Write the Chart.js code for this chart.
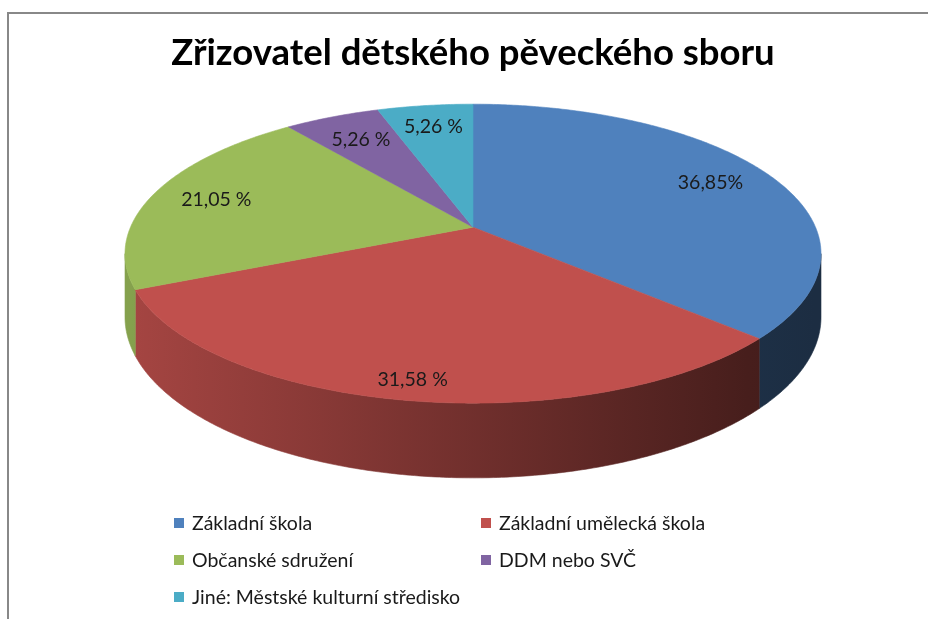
<!DOCTYPE html>
<html>
<head>
<meta charset="utf-8">
<script src="https://cdn.jsdelivr.net/npm/chart.js@4.4.0/dist/chart.umd.min.js"></script>
<style>
  body { margin: 0; background: #fff; overflow: hidden; }
  #wrap { position: relative; width: 928px; height: 619px; }
  #frame { position: absolute; left: 7px; top: 12px; right: 0; bottom: 0;
           border-top: 2px solid #888; border-left: 2px solid #888; }
  #chart { position: absolute; left: 0; top: 0; }
  #legend { position: absolute; left: 174px; top: 504px; display: grid;
            grid-template-columns: 307px 300px; grid-auto-rows: 37px;
            font: 19.5px Lato, sans-serif; color: #1a1a1a; }
  .item { display: flex; align-items: center; white-space: nowrap; }
  .box { width: 10px; height: 10px; margin-right: 8px; flex: none; }
</style>
</head>
<body>
<div id="wrap">
  <div id="frame"></div>
  <canvas id="chart" width="928" height="619"></canvas>
  <div id="legend"></div>
</div>
<script>
// data
const categories = ['Základní škola', 'Základní umělecká škola', 'Občanské sdružení', 'DDM nebo SVČ', 'Jiné: Městské kulturní středisko'];
const shares = [36.85, 31.58, 21.05, 5.26, 5.26];
const shareLabels = ['36,85%', '31,58 %', '21,05 %', '5,26 %', '5,26 %'];

const COLORS = ['#4f81bd', '#c0504d', '#9bbb59', '#8064a2', '#4bacc6'];

function shade(hex, f) {
  const n = parseInt(hex.slice(1), 16);
  const r = Math.round(((n >> 16) & 255) * f);
  const g = Math.round(((n >> 8) & 255) * f);
  const b = Math.round((n & 255) * f);
  return `rgb(${r},${g},${b})`;
}

// draws the pie slices tilted, with a side wall, from the arcs chart.js computed
const pie3d = {
  id: 'pie3d',
  beforeDatasetsDraw(chart, args, opts) {
    const meta = chart.getDatasetMeta(0);
    const ctx = chart.ctx;
    const cx = meta.data[0].x, cy = meta.data[0].y;
    const A = opts.rx, B = opts.ry, k = opts.persp, depth = opts.depth;
    const colors = chart.data.datasets[0].backgroundColor;

    const proj = (th, r, down) => {
      const d = 1 + k * r * Math.cos(th);
      return [cx + A * r * Math.sin(th) / d, cy - B * r * Math.cos(th) / d + down / d];
    };
    const angles = meta.data.map(arc => [arc.startAngle + Math.PI / 2, arc.endAngle + Math.PI / 2]);

    ctx.save();
    // side wall (front part only)
    const thL = Math.acos(-k), thR = 2 * Math.PI - thL;
    const left = cx - A, right = cx + A;
    angles.forEach(([s, e], i) => {
      const a = Math.max(s, thL), b = Math.min(e, thR);
      if (b <= a) return;
      const grad = ctx.createLinearGradient(left, 0, right, 0);
      grad.addColorStop(0, shade(colors[i], 0.86));
      grad.addColorStop(0.9, shade(colors[i], 0.37));
      grad.addColorStop(1, shade(colors[i], 0.35));
      const n = Math.max(2, Math.ceil((b - a) / 0.01));
      ctx.beginPath();
      for (let j = 0; j <= n; j++) {
        const p = proj(a + (b - a) * j / n, 1, 0);
        j ? ctx.lineTo(p[0], p[1]) : ctx.moveTo(p[0], p[1]);
      }
      for (let j = n; j >= 0; j--) {
        const p = proj(a + (b - a) * j / n, 1, depth);
        ctx.lineTo(p[0], p[1]);
      }
      ctx.closePath();
      ctx.fillStyle = grad;
      ctx.strokeStyle = grad;
      ctx.lineWidth = 0.6;
      ctx.fill();
      ctx.stroke();
    });

    // top faces
    angles.forEach(([s, e], i) => {
      const n = Math.max(2, Math.ceil((e - s) / 0.01));
      ctx.beginPath();
      ctx.moveTo(cx, cy);
      for (let j = 0; j <= n; j++) {
        const p = proj(s + (e - s) * j / n, 1, 0);
        ctx.lineTo(p[0], p[1]);
      }
      ctx.closePath();
      ctx.fillStyle = colors[i];
      ctx.strokeStyle = colors[i];
      ctx.lineWidth = 0.6;
      ctx.fill();
      ctx.stroke();
    });

    // value labels
    ctx.font = opts.labelFont;
    ctx.fillStyle = '#1a1a1a';
    ctx.textAlign = 'center';
    ctx.textBaseline = 'middle';
    angles.forEach(([s, e], i) => {
      const p = proj((s + e) / 2, opts.labelRadius[i], 0);
      ctx.fillText(shareLabels[i], p[0], p[1]);
    });
    ctx.restore();
    return false;
  }
};

const chart = new Chart(document.getElementById('chart'), {
  type: 'pie',
  data: {
    labels: categories,
    datasets: [{ data: shares, backgroundColor: COLORS, borderWidth: 0 }]
  },
  options: {
    responsive: false,
    animation: false,
    layout: { padding: { left: 120, right: 102, top: 0, bottom: 269 } },
    plugins: {
      title: {
        display: true,
        text: 'Zřizovatel dětského pěveckého sboru',
        color: '#000',
        font: { family: 'Lato', size: 36.5, weight: 'bold' },
        padding: { top: 31, bottom: 29.6 }
      },
      legend: { display: false },
      tooltip: { enabled: false },
      pie3d: {
        rx: 342.5, ry: 144.8, persp: 0.177, depth: 61.5,
        labelRadius: [0.8, 0.9, 0.8, 0.77, 0.8],
        labelFont: '19.5px Lato'
      }
    }
  },
  plugins: [pie3d]
});

// legend in two columns like the original
const legendEl = document.getElementById('legend');
chart.data.labels.forEach((label, i) => {
  const item = document.createElement('div');
  item.className = 'item';
  const box = document.createElement('span');
  box.className = 'box';
  box.style.background = chart.data.datasets[0].backgroundColor[i];
  item.appendChild(box);
  item.appendChild(document.createTextNode(label));
  legendEl.appendChild(item);
});
</script>
</body>
</html>
